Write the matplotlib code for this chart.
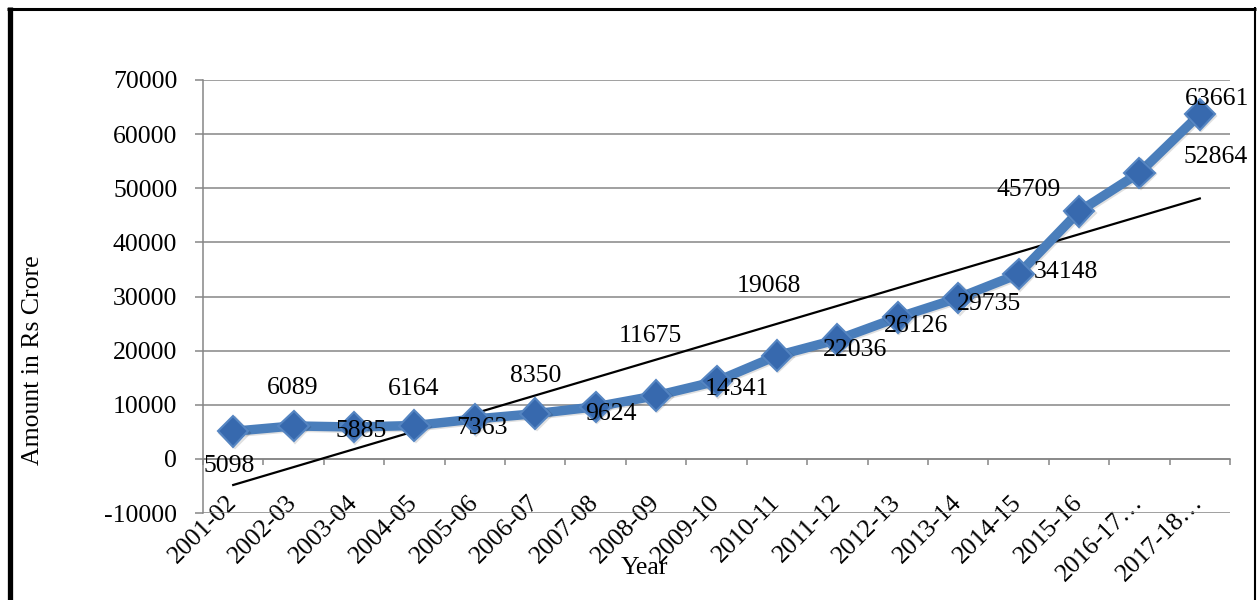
import matplotlib
matplotlib.use('Agg')
import numpy as np
import matplotlib.pyplot as plt
from matplotlib.lines import Line2D
import matplotlib.patheffects as pe

plt.rcParams['font.family'] = ['Liberation Serif', 'DejaVu Serif']

years = ['2001-02', '2002-03', '2003-04', '2004-05', '2005-06', '2006-07',
         '2007-08', '2008-09', '2009-10', '2010-11', '2011-12', '2012-13',
         '2013-14', '2014-15', '2015-16', '2016-17\u2026', '2017-18\u2026']
amounts = [5098, 6089, 5885, 6164, 7363, 8350, 9624, 11675, 14341, 19068,
           22036, 26126, 29735, 34148, 45709, 52864, 63661]
y_ticks = list(range(-10000, 70001, 10000))

# data label placement, pixel offsets from each point (right, down)
label_offsets = [(-4, 35), (-1, -38), (7, 4), (-1, -37), (7, 9), (0, -38),
                 (15, 7), (-6, -60), (20, 8), (-8, -70), (18, 10), (18, 9),
                 (31, 6), (47, -2), (-50, -21), (76, -16), (17, -15)]

GRID = '#868686'
BLUE = '#4A7EBB'

x = np.arange(len(years))
fig = plt.figure(figsize=(12.58, 6), dpi=100)
ax = fig.add_axes([203 / 1258, 87 / 600, 1027 / 1258, 433 / 600])

# spine placement first: set_position resets the tick objects
for side in ['top', 'right']:
    ax.spines[side].set_visible(False)
ax.spines['bottom'].set_position(('data', 0))
for side in ['left', 'bottom']:
    ax.spines[side].set_color(GRID)
    ax.spines[side].set_linewidth(1.1)

# linear trend line
slope, intercept = np.polyfit(x, amounts, 1)
ax.plot(x, slope * x + intercept, color='black', linewidth=1.6, zorder=3)

ax.plot(x, amounts, color=BLUE, linewidth=6.8, marker='D', markersize=15.5,
        markerfacecolor='#3769AE', markeredgecolor='#5585C2', markeredgewidth=1.5,
        solid_joinstyle='round', zorder=4,
        path_effects=[pe.SimpleLineShadow(offset=(1, -1), alpha=0.12), pe.Normal()])

for xi, val, (dx, dy) in zip(x, amounts, label_offsets):
    ax.annotate(str(val), xy=(xi, val), xytext=(dx, -dy), textcoords='offset pixels',
                ha='center', va='center', fontsize=18.5, color='black', zorder=5)

ax.set_xlim(-0.5, len(years) - 0.5)
ax.set_ylim(-10000, 70000)
ax.set_yticks(y_ticks)
ax.set_yticklabels([str(t) for t in y_ticks], fontsize=18.5)
ax.set_xticks(np.arange(-0.5, len(years), 1.0), minor=True)
ax.set_xticks(x)
ax.set_xticklabels(years, fontsize=18.5, rotation=45, ha='right', va='center',
                   rotation_mode='anchor')

ax.grid(axis='y', color=GRID, linewidth=1.1)
ax.set_axisbelow(True)

ax.tick_params(axis='y', direction='out', length=5.5, width=1.1, color=GRID, pad=13)
ax.tick_params(axis='x', which='major', length=0, pad=28.8)
ax.tick_params(axis='x', which='minor', direction='out', length=4.5, width=1.1, color=GRID)

fig.text(33 / 1258, 1 - 360 / 600, 'Amount in Rs Crore', rotation=90,
         ha='center', va='center', fontsize=18.5)
fig.text(644 / 1258, 1 - 568 / 600, 'Year', ha='center', va='center', fontsize=18.5)

# outer frame
fig.add_artist(Line2D([9.5 / 1258, 9.5 / 1258], [0, 1 - 7 / 600], transform=fig.transFigure,
                      color='black', linewidth=3.8, solid_capstyle='butt'))
fig.add_artist(Line2D([7 / 1258, 1256 / 1258], [1 - 8.5 / 600, 1 - 8.5 / 600],
                      transform=fig.transFigure, color='black', linewidth=2.2,
                      solid_capstyle='butt'))
fig.add_artist(Line2D([1254.5 / 1258, 1254.5 / 1258], [0, 1 - 7 / 600],
                      transform=fig.transFigure, color='black', linewidth=1.5,
                      solid_capstyle='butt'))

fig.savefig('out.png', dpi=100)
